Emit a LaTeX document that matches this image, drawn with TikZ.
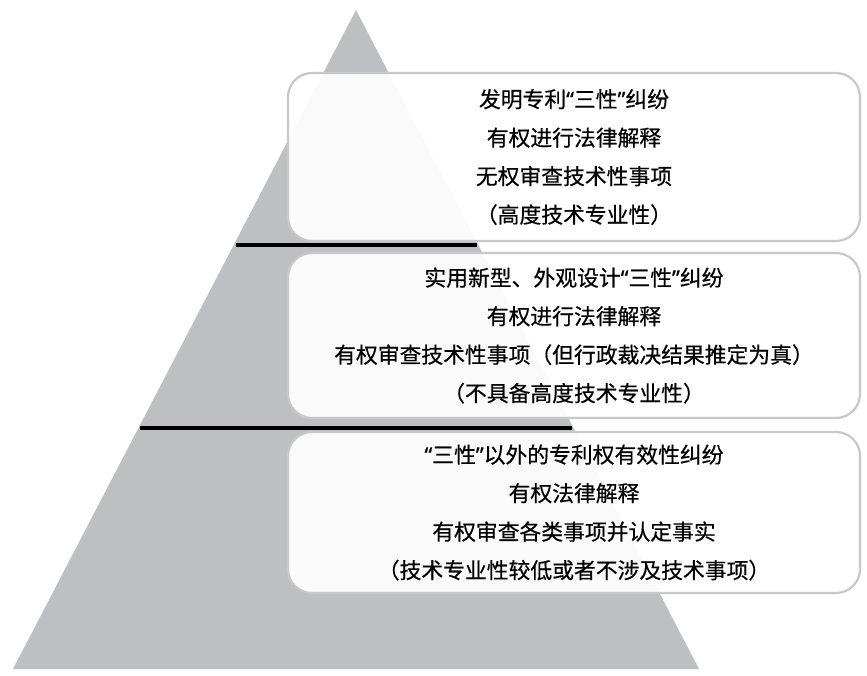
\documentclass[tikz,border=0pt]{standalone}
\usepackage{fontspec}
\newfontfamily\cjk[FakeBold=0.5]{Noto Sans CJK SC}
\newfontfamily\qfont[FakeBold=0.5]{Noto Sans}
\newcommand{\myopenq}{{\qfont “}}
\newcommand{\myclosq}{{\qfont ”}}
\definecolor{pyrgray}{RGB}{190,191,193}
\definecolor{boxedge}{RGB}{200,200,200}
\tikzset{
  tier/.style={draw=boxedge, line width=2.2pt, fill=white, fill opacity=0.93, text opacity=1,
    rounded corners=24pt, minimum width=572pt, align=center, inner sep=0pt,
    font=\cjk\fontsize{21.8}{38.5}\selectfont},
  divider/.style={line width=3.6pt, black}
}
\begin{document}
\begin{tikzpicture}[x=1pt,y=-1pt]
\useasboundingbox (0,0) rectangle (867,675);
\fill[pyrgray] (356,10) -- (699,669) -- (13,669) -- cycle;
\node[tier, minimum height=168pt] (b1) at (574,157) {发明专利\myopenq 三性\myclosq 纠纷\\有权进行法律解释\\无权审查技术性事项\\（高度技术专业性）};
\node[tier, minimum height=165pt] (b2) at (574,335.5) {实用新型、外观设计\myopenq 三性\myclosq 纠纷\\有权进行法律解释\\有权审查技术性事项（但行政裁决结果推定为真）\\（不具备高度技术专业性）};
\node[tier, minimum height=161pt] (b3) at (574,512.5) {\myopenq 三性\myclosq 以外的专利权有效性纠纷\\有权法律解释\\有权审查各类事项并认定事实\\（技术专业性较低或者不涉及技术事项）};
\coordinate (l1a) at (236,245);
\coordinate (l1b) at (477,245);
\coordinate (l2a) at (140,428);
\coordinate (l2b) at (572,428);
\draw[divider] (l1a) -- (l1b);
\draw[divider] (l2a) -- (l2b);
\end{tikzpicture}
\end{document}
